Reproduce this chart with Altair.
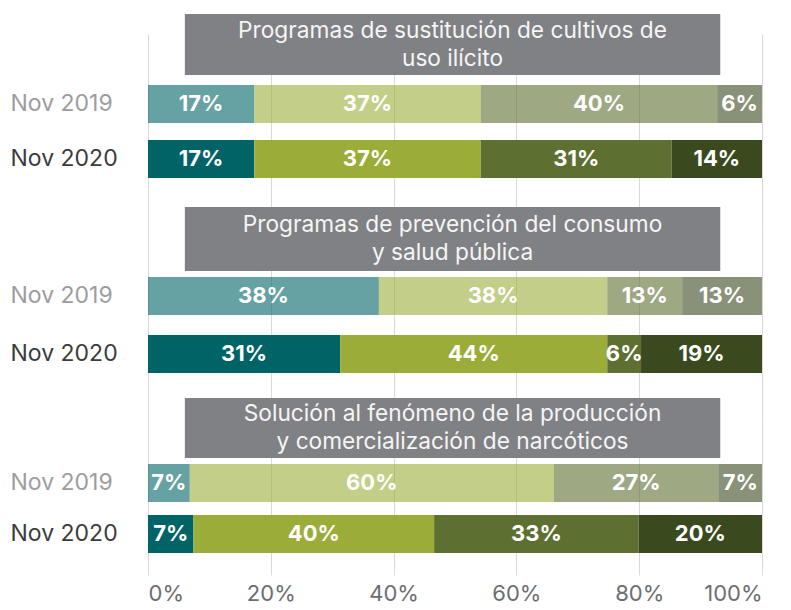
import altair as alt
import pandas as pd

FONT = "Inter"

titles = [
    "Programas de sustitución de cultivos de\nuso ilícito",
    "Programas de prevención del consumo\ny salud pública",
    "Solución al fenómeno de la producción\ny comercialización de narcóticos",
]
years = ["Nov 2019", "Nov 2020"]
segments = ["c1", "c2", "c3", "c4"]

values_2019 = [[17.3, 36.9, 38.5, 7.3], [37.6, 37.2, 12.2, 13.0], [6.8, 59.3, 26.8, 7.1]]
values_2020 = [[17.3, 36.9, 31.1, 14.7], [31.3, 43.5, 5.5, 19.7], [7.4, 39.2, 33.3, 20.1]]
labels_2019 = [["17%", "37%", "40%", "6%"], ["38%", "38%", "13%", "13%"], ["7%", "60%", "27%", "7%"]]
labels_2020 = [["17%", "37%", "31%", "14%"], ["31%", "44%", "6%", "19%"], ["7%", "40%", "33%", "20%"]]
colors = ["#006466", "#9BAD38", "#5E7031", "#3A4A1E"]
tick_values = [0, 20, 40, 60, 80, 100]

LINE_H = 28


def group_df(g):
    rows = []
    for year, vals, labs in ((years[0], values_2019, labels_2019), (years[1], values_2020, labels_2020)):
        for i, s in enumerate(segments):
            rows.append({"year": year, "seg": s, "order": i, "value": vals[g][i], "label": labs[g][i]})
    return pd.DataFrame(rows)


def band_scale(height, top, band, gap):
    step = band + gap
    pi = gap / step
    span = 2 * band + gap
    po = (height / step - (2 - pi)) / 2
    align = top / (height - span)
    return alt.Scale(domain=years, paddingInner=pi, paddingOuter=po, align=align)


def panel(g, height, box_top, box_bottom, bar_top, band, gap, last):
    df = group_df(g)
    xaxis = alt.Axis(
        values=tick_values, grid=True, gridColor="#d9d9d9", gridWidth=1,
        domain=False, ticks=False, labels=last, labelExpr="datum.value + '%'",
        labelFontSize=22, labelColor="#6d6e71", labelFont=FONT, labelPadding=8, title=None,
    )
    yaxis = alt.Axis(
        title=None, domain=False, ticks=False, labelFontSize=23, labelFont=FONT,
        labelAlign="left", labelPadding=138,
        labelColor={"condition": {"test": "datum.value == 'Nov 2019'", "value": "#9d9d9f"}, "value": "#3c3c3c"},
    )
    base = (
        alt.Chart(df)
        .transform_stack(stack="value", as_=["x0", "x1"], groupby=["year"],
                         sort=[alt.SortField("order", order="ascending")])
        .transform_calculate(mid="(datum.x0 + datum.x1) / 2")
    )
    bars = base.mark_bar().encode(
        x=alt.X("x0:Q", scale=alt.Scale(domain=[0, 100], nice=False), axis=xaxis),
        x2="x1:Q",
        y=alt.Y("year:N", scale=band_scale(height, bar_top, band, gap), axis=yaxis),
        color=alt.Color("seg:N", scale=alt.Scale(domain=segments, range=colors), legend=None),
        opacity=alt.condition("datum.year == 'Nov 2019'", alt.value(0.6), alt.value(1.0)),
    )
    text = base.mark_text(color="white", fontWeight="bold", fontSize=22, font=FONT).encode(
        x="mid:Q", y=alt.Y("year:N"), text="label:N"
    )
    tdf = pd.DataFrame({"title": [titles[g]]})
    box = alt.Chart(tdf).mark_rect(color="#808185").encode(
        x=alt.datum(6.0), x2=alt.datum(93.2), y=alt.value(box_top), y2=alt.value(box_bottom)
    )
    boxtext = alt.Chart(tdf).mark_text(
        color="#f5f5f5", fontSize=22.7, font=FONT, lineBreak="\n", lineHeight=LINE_H,
        align="center", baseline="middle",
    ).encode(x=alt.datum(49.6), y=alt.value((box_top + box_bottom) / 2 - LINE_H / 2), text="title:N")
    return alt.layer(bars, text, box, boxtext).properties(width=614, height=height)


p1 = panel(0, 193, -20, 41, 51, 38, 17, False)
p2 = panel(1, 191, -20, 44, 50, 38, 20, False)
p3 = panel(2, 157, -20, 40, 46, 38, 13, True)

chart = (
    alt.vconcat(p1, p2, p3, spacing=0, bounds="flush")
    .properties(padding={"left": 2, "top": 6, "right": 0, "bottom": 4})
    .configure_view(stroke=None)
)

chart.save("out.html", embed_options={"renderer": "svg", "actions": False})
